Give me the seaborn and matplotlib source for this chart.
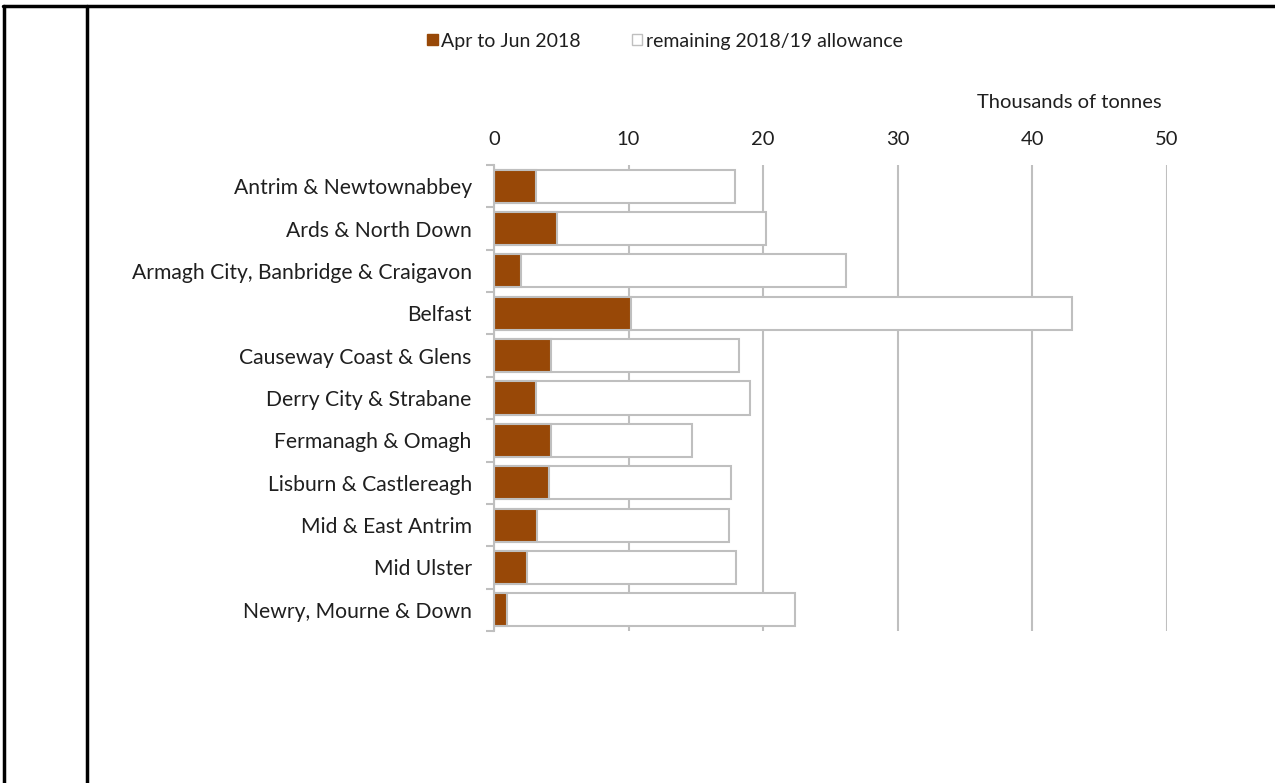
import matplotlib
matplotlib.use("Agg")
import matplotlib.pyplot as plt
import seaborn as sns
import pandas as pd
from matplotlib.patches import Patch
from matplotlib.lines import Line2D

councils = [
    "Antrim & Newtownabbey",
    "Ards & North Down",
    "Armagh City, Banbridge & Craigavon",
    "Belfast",
    "Causeway Coast & Glens",
    "Derry City & Strabane",
    "Fermanagh & Omagh",
    "Lisburn & Castlereagh",
    "Mid & East Antrim",
    "Mid Ulster",
    "Newry, Mourne & Down",
]
apr_jun_2018 = [3.1, 4.7, 2.0, 10.2, 4.25, 3.1, 4.25, 4.1, 3.2, 2.45, 0.95]
remaining_allowance = [14.8, 15.55, 24.15, 32.75, 13.95, 15.95, 10.5, 13.5, 14.25, 15.55, 21.4]
x_ticks = [0, 10, 20, 30, 40, 50]

sns.set_theme(style="white")
plt.rcParams["font.family"] = ["Lato", "DejaVu Sans"]

df = pd.DataFrame({
    "council": councils,
    "apr": apr_jun_2018,
    "total": [a + r for a, r in zip(apr_jun_2018, remaining_allowance)],
})

brown = "#984807"
grey = "#bfbfbf"
txt = "#1f1f1f"
fs = 14.5

fig = plt.figure(figsize=(12.75, 7.83), dpi=100)
ax = fig.add_axes([494 / 1275, 1 - 631 / 783, (1166.6 - 494) / 1275, (631 - 165) / 783])

sns.barplot(data=df, y="council", x="total", orient="h", color="white",
            edgecolor=grey, linewidth=1.5, width=0.78, ax=ax, saturation=1)
sns.barplot(data=df, y="council", x="apr", orient="h", color=brown,
            edgecolor=grey, linewidth=1.5, width=0.78, ax=ax, saturation=1)

ax.set_xlim(0, 50)
ax.set_ylim(len(councils) - 0.5, -0.5)
ax.set_xticks(x_ticks)
ax.xaxis.tick_top()
ax.tick_params(axis="x", length=0, labelsize=fs, pad=12, labelcolor=txt)
ax.tick_params(axis="y", which="major", length=0, labelsize=15.2, pad=16, labelcolor=txt)
ax.set_yticks([i - 0.5 for i in range(len(councils) + 1)], minor=True)
ax.tick_params(axis="y", which="minor", length=6, width=1.5, color=grey, left=True)
ax.set_xlabel("")
ax.set_ylabel("")
ax.grid(axis="x", color=grey, linewidth=1.5)
ax.set_axisbelow(True)
for s in ["top", "right", "bottom"]:
    ax.spines[s].set_visible(False)
ax.spines["left"].set_color(grey)
ax.spines["left"].set_linewidth(1.5)

fig.text(1162 / 1275, 1 - 103 / 783, "Thousands of tonnes", ha="right", va="center",
         fontsize=fs, color=txt)

handles = [Patch(facecolor=brown, edgecolor=brown, label="Apr to Jun 2018"),
           Patch(facecolor="white", edgecolor=grey, label="remaining 2018/19 allowance")]
fig.legend(handles=handles, loc="center", bbox_to_anchor=(665 / 1275, 1 - 41 / 783),
           ncol=2, frameon=False, fontsize=14, handlelength=0.55, handleheight=0.55,
           handletextpad=0.2, columnspacing=2.6, labelcolor=txt)

# page frame lines
fig.add_artist(Line2D([3 / 1275, 1], [1 - 5.5 / 783, 1 - 5.5 / 783], color="black", linewidth=2.5))
fig.add_artist(Line2D([4 / 1275, 4 / 1275], [0, 1 - 5.5 / 783], color="black", linewidth=2.5))
fig.add_artist(Line2D([87 / 1275, 87 / 1275], [0, 1 - 5.5 / 783], color="black", linewidth=2.5))

fig.savefig("out.png", dpi=100, facecolor="white")
